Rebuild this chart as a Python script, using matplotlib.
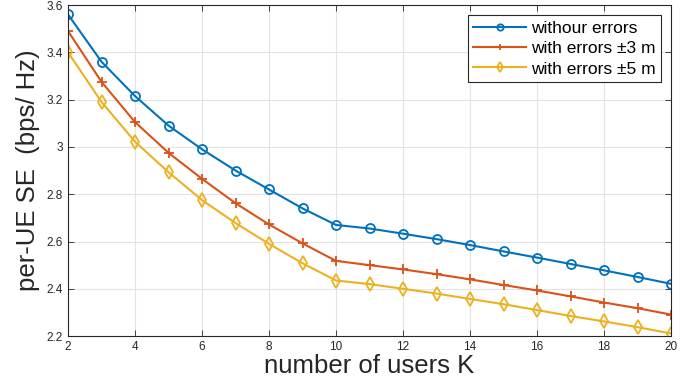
import numpy as np
import matplotlib
matplotlib.use('Agg')
import matplotlib.pyplot as plt
from matplotlib.ticker import FuncFormatter

plt.rcParams['font.family'] = ['Liberation Sans', 'DejaVu Sans']

users = np.arange(2, 21)
se_no_err = [3.56, 3.36, 3.215, 3.09, 2.99, 2.90, 2.82, 2.74, 2.67, 2.655,
             2.633, 2.61, 2.585, 2.558, 2.532, 2.505, 2.478, 2.45, 2.421]
se_err3 = [3.49, 3.275, 3.105, 2.975, 2.865, 2.762, 2.672, 2.592, 2.518, 2.50,
           2.482, 2.462, 2.44, 2.416, 2.393, 2.368, 2.342, 2.318, 2.291]
se_err5 = [3.40, 3.19, 3.022, 2.893, 2.775, 2.678, 2.59, 2.508, 2.435, 2.42,
           2.40, 2.38, 2.357, 2.335, 2.31, 2.285, 2.262, 2.238, 2.211]
labels = ['withour errors', 'with errors \u00b13 m', 'with errors \u00b15 m']

fig = plt.figure(figsize=(6.99, 3.85), dpi=100)
ax = fig.add_axes([0.0973, 0.127, 0.8627, 0.86])

ax.plot(users, se_no_err, color='#0072BD', marker='o', markersize=6.5,
        markerfacecolor='none', markeredgewidth=1.3, linewidth=1.5, label=labels[0])
ax.plot(users, se_err3, color='#D95319', marker='+', markersize=7,
        markeredgewidth=1.3, linewidth=1.5, label=labels[1])
ax.plot(users, se_err5, color='#EDB120', marker='d', markersize=7,
        markerfacecolor='none', markeredgewidth=1.3, linewidth=1.5, label=labels[2])

ax.set_xlim(2, 20)
ax.set_ylim(2.2, 3.6)
ax.set_xticks(np.arange(2, 21, 2))
ax.set_yticks(np.arange(2.2, 3.61, 0.2))
ax.yaxis.set_major_formatter(FuncFormatter(lambda v, p: '%g' % round(v, 2)))
ax.grid(True, color='#e3e3e3', linewidth=0.8)
ax.set_axisbelow(True)
ax.tick_params(direction='in', top=True, right=True, labelsize=8.5,
               colors='#262626', length=4, width=0.6)
for s in ax.spines.values():
    s.set_color('#262626')
    s.set_linewidth(0.8)

ax.set_xlabel('number of users K', fontsize=18.5, color='#262626', labelpad=1)
ax.set_ylabel('per-UE SE  (bps/ Hz)', fontsize=18.5, color='#262626', labelpad=5)

leg = ax.legend(loc='upper right', fontsize=12.5, fancybox=False, framealpha=1,
                edgecolor='#262626', handlelength=3.0, handletextpad=0.3,
                labelspacing=0.3, borderpad=0.3, borderaxespad=0.6, markerscale=0.7)
leg.get_frame().set_linewidth(0.8)

fig.savefig('out.png', dpi=100)
